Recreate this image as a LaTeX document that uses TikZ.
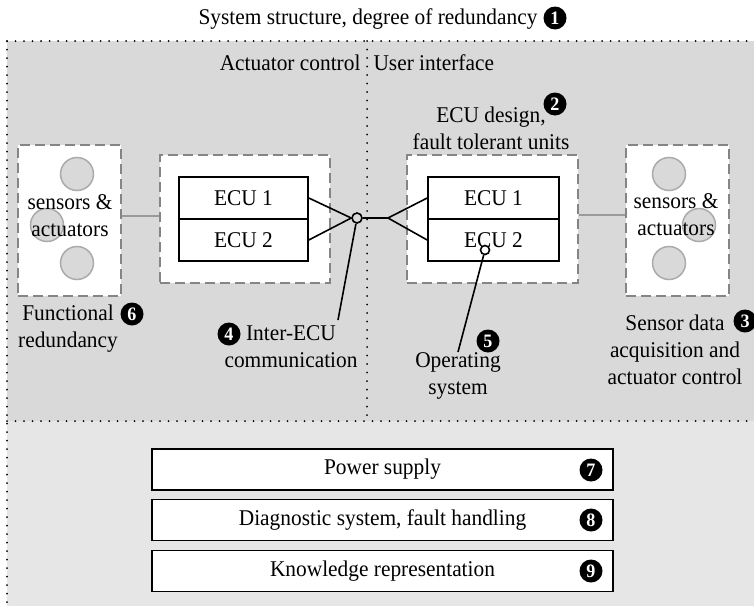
\documentclass[tikz,border=0pt]{standalone}
\usepackage{fontspec}
\setmainfont{Liberation Serif}[FakeStretch=0.95]
\usetikzlibrary{positioning}
\definecolor{bggray}{HTML}{D9D9D9}
\definecolor{lowgray}{HTML}{E6E6E6}
\definecolor{boxgray}{HTML}{858585}
\definecolor{blobgray}{HTML}{ABABAB}
\tikzset{
	numdot/.style={circle, fill=black, text=white, inner sep=0pt, minimum size=23pt,
			font=\fontsize{19}{19}\selectfont\bfseries}
}
\tikzset{
	dotline/.style={line width=2pt, dash pattern=on 0pt off 8.5pt, line cap=round}
}
\tikzset{
	dashbox/.style={draw=boxgray, fill=white, line width=2pt, dash pattern=on 10pt off 5pt,
			inner sep=0pt}
}
\tikzset{
	ecubox/.style={draw, line width=1.6pt, minimum width=129pt, minimum height=42pt, inner sep=0pt}
}
\tikzset{
	blob/.style={circle, draw=blobgray, fill=bggray, line width=1.5pt, minimum size=33pt, inner sep=0pt}
}
\tikzset{
	barbox/.style={draw, fill=white, line width=1.6pt, minimum width=461pt, minimum height=41pt, inner sep=0pt}
}

\begin{document}
\begin{tikzpicture}[x=1pt, y=-1pt, font=\fontsize{22.5}{27}\selectfont]

	\useasboundingbox (0,0) rectangle (754,605);

	% regions
	\fill[bggray] (7,41) rectangle (760,421);
	\fill[lowgray] (7,421) rectangle (760,610);
	\draw[dotline] (7,41) -- (754,41);
	\draw[dotline] (7,41) -- (7,605);
	\draw[dotline] (7,421) -- (754,421);
	\draw[dotline] (367,41) -- (367,421);

	\node (title) at (368,19) {System structure, degree of redundancy};
	\node[numdot] (n1) at (555,18) {1};
	\node[anchor=east] (actctl) at (364,63) {Actuator control};
	\node[anchor=west] (usrif) at (370,63) {User interface};

	% left side
	\begin{scope}
		\node[dashbox, minimum width=103pt, minimum height=151pt] (sensL) at (69.5,220.5) {};
		\node[blob] (bL1) at (77,174) {};
		\node[blob] (bL2) at (47,225) {};
		\node[blob] (bL3) at (77,263) {};
		\node[align=center] (sensLtxt) at (70,216) {sensors \&\\actuators};

		\node[dashbox, minimum width=170pt, minimum height=128pt] (ecuL) at (245,219) {};
		\node[ecubox] (ecuLa) at (243.5,198) {ECU 1};
		\node[ecubox] (ecuLb) at (243.5,240) {ECU 2};
	\end{scope}

	% right side
	\begin{scope}
		\node[dashbox, minimum width=171pt, minimum height=128pt] (ecuR) at (492.5,219) {};
		\node[ecubox, minimum width=131pt] (ecuRa) at (493.5,198) {ECU 1};
		\node[ecubox, minimum width=131pt] (ecuRb) at (493.5,240) {ECU 2};

		\node[dashbox, minimum width=103pt, minimum height=151pt] (sensR) at (677.5,220.5) {};
		\node[blob] (bR1) at (669,174) {};
		\node[blob] (bR2) at (699,225) {};
		\node[blob] (bR3) at (669,263) {};
		\node[align=center] (sensRtxt) at (676,215) {sensors \&\\actuators};
	\end{scope}

	\draw[blobgray!90!black, line width=2pt] ([yshift=5pt]sensL.east) -- ([yshift=5pt]sensL.east -| ecuL.west);
	\draw[blobgray!90!black, line width=2pt] ([yshift=4pt]ecuR.east) -- ([yshift=4pt]ecuR.east -| sensR.west);

	% bus
	\node[circle, draw, line width=1.6pt, fill=bggray, minimum size=10pt, inner sep=0pt] (jct) at (357,218) {};
	\coordinate (split) at (388,218);
	\draw[line width=1.6pt] (ecuLa.east) -- (jct.west);
	\draw[line width=1.6pt] (ecuLb.east) -- (jct.west);
	\draw[line width=1.6pt] (jct.east) -- (split) -- (ecuRa.west);
	\draw[line width=1.6pt] (split) -- (ecuRb.west);

	\node[circle, draw, line width=1.6pt, fill=white, minimum size=9pt, inner sep=0pt] (osdot) at (485,250) {};

	\coordinate (leadA) at (338,320);
	\coordinate (leadB) at (458,352);
	\draw[line width=1.6pt] (jct) -- (leadA);
	\draw[line width=1.6pt] (osdot) -- (leadB);

	% labels
	\node[align=center] (ecudes) at (491,128) {ECU design,\\fault tolerant units};
	\node[numdot] (n2) at (555,104) {2};
	\node[align=center] (sensdata) at (675,350) {Sensor data\\acquisition and\\actuator control};
	\node[numdot] (n3) at (745,321) {3};
	\node[align=center] (interecu) at (291,347) {Inter-ECU\\communication};
	\node[numdot] (n4) at (229,334) {4};
	\node[align=center] (opsys) at (458,376) {Operating\\system};
	\node[numdot] (n5) at (488,341) {5};
	\node[align=center] (funcred) at (68,329) {Functional\\redundancy};
	\node[numdot] (n6) at (132,314) {6};

	% lower bars
	\node[barbox] (power) at (382.5,469.5) {Power supply};
	\node[barbox] (diag) at (382.5,520) {Diagnostic system, fault handling};
	\node[barbox] (know) at (382.5,571) {Knowledge representation};
	\node[numdot] (n7) at (591,470) {7};
	\node[numdot] (n8) at (591,520) {8};
	\node[numdot] (n9) at (591,571) {9};

\end{tikzpicture}
\end{document}
